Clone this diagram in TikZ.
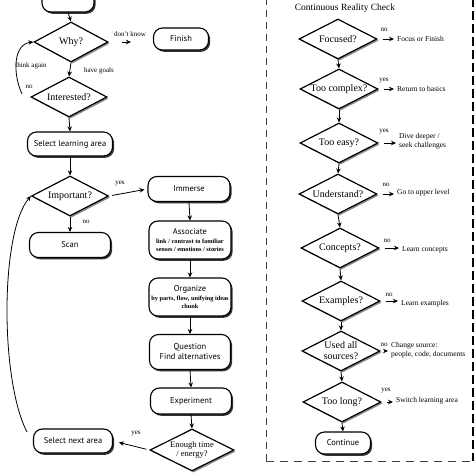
\documentclass[tikz,border=0pt]{standalone}
\usepackage{fontspec}
\setmainfont{Liberation Serif}
\setsansfont{PT Sans}
\usetikzlibrary{shapes.geometric,shadows,arrows.meta}
\newcommand{\subf}{\rmfamily\bfseries\fontsize{6.3}{7}\selectfont}
\tikzset{
  box/.style={draw, line width=1.1pt, fill=white, rounded corners=9pt, inner sep=1pt,
    drop shadow={shadow xshift=1.6pt, shadow yshift=-1.8pt, fill=black!80, opacity=1},
    font=\sffamily\fontsize{8.5}{10}\selectfont, align=center},
  diam/.style={diamond, aspect=2, draw, line width=1.2pt, fill=white, inner sep=0pt, align=center,
    drop shadow={shadow xshift=1.6pt, shadow yshift=-1.6pt, fill=black!45, opacity=1},
    font=\fontsize{10}{10.5}\selectfont},
  rdiam/.style={diam, minimum width=78pt, minimum height=40pt},
  arr/.style={line width=0.8pt, -{Stealth[length=5pt,width=4.5pt]}},
  lbl/.style={font=\fontsize{7}{8}\selectfont, inner sep=0pt},
  side/.style={font=\fontsize{7.5}{8.5}\selectfont, inner sep=0pt, anchor=west, align=left},
  dline/.style={line width=0.9pt, black!75, dash pattern=on 7pt off 5pt}
}
\begin{document}
\begin{tikzpicture}[x=1pt,y=-1pt]
\useasboundingbox (0,0) rectangle (474,474);
\clip (0,0) rectangle (474,474);
% ---------------- left flow ----------------
\node[box, minimum width=52pt, minimum height=24pt] (top) at (68,0) {};
\node[diam, minimum width=74pt, minimum height=40pt] (why) at (71,42) {Why?};
\node[box, minimum width=55pt, minimum height=22pt] (finish) at (181,39) {Finish};
\node[diam, minimum width=76pt, minimum height=40pt] (interested) at (69,97) {Interested?};
\node[box, minimum width=85pt, minimum height=24pt] (select) at (70,144) {Select learning area};
\node[diam, minimum width=77pt, minimum height=40pt] (important) at (70,196) {Important?};
\node[box, minimum width=81pt, minimum height=25pt] (scan) at (70,245) {Scan};
\node[box, minimum width=82pt, minimum height=25pt] (immerse) at (189,189) {Immerse};
\node[box, minimum width=82pt, minimum height=38pt] (associate) at (190,240)
  {Associate\\[-0.5pt]\subf link / contrast to familiar\\[-2.5pt]\subf senses / emotions / stories};
\node[box, minimum width=82pt, minimum height=38pt] (organize) at (190,297)
  {Organize\\[-0.5pt]\subf by parts, flow, unifying ideas\\[-2.5pt]\subf chunk};
\node[box, minimum width=81pt, minimum height=35pt] (question) at (190,352) {Question\\Find alternatives};
\node[box, minimum width=81pt, minimum height=26pt] (experiment) at (191,401) {Experiment};
\node[diam, minimum width=84pt, minimum height=42pt, font=\fontsize{8.5}{9.5}\selectfont] (enough) at (192,450) {Enough time\\/ energy?};
\node[box, minimum width=79pt, minimum height=24pt] (selnext) at (73,441) {Select next area};

\draw[arr] (top.south) -- (why.north);
\draw[arr, shorten <=13pt, shorten >=22pt] (why.east) -- (why.east -| finish.west);
\node[lbl] (dk) at (130,34) {don't know};
\draw[arr] (why.south) -- (interested.north);
\node[lbl] (hg) at (99,71) {have goals};
\node[lbl] (ta) at (31,66) {think again};
\node[lbl] (no1) at (29,87) {no};
\coordinate (tastart) at (22,94);
\draw[arr] (tastart) .. controls (12,72) and (14,44) .. (why.west);
\draw[arr] (interested.south) -- (select.north);
\draw[arr] (select.south) -- (important.north);
\draw[arr, shorten <=3pt, shorten >=3pt] (important.east) -- (immerse.west);
\node[lbl] (y1) at (120,184) {yes};
\draw[arr] (important.south) -- (scan.north);
\node[lbl] (no2) at (86,222) {no};
\draw[arr] (immerse.south) -- (associate.north);
\draw[arr] (associate.south) -- (organize.north);
\draw[arr] (organize.south) -- (question.north);
\draw[arr] (question.south) -- (experiment.north);
\draw[arr] (experiment.south) -- (enough.north);
\draw[arr, shorten <=3pt, shorten >=6pt] (enough.west) -- (selnext.east);
\node[lbl] (y2) at (136,434) {yes};
\coordinate (loopstart) at (27,432);
\draw[arr] (loopstart) .. controls (0,380) and (0,232) .. (important.west);

% ---------------- right panel ----------------
\draw[dline] (266,-2) -- (266,461);
\draw[line width=0.9pt, black!75, dash pattern=on 8pt off 6pt] (266,461) -- (472,461);
\draw[line width=3pt, dash pattern=on 9pt off 4pt] (473,-2) -- (473,461);
\node[font=\fontsize{9.5}{10}\selectfont] (title) at (345,8) {Continuous Reality Check};

\node[rdiam] (focused) at (338,39) {Focused?};
\node[rdiam] (complex) at (339,89) {Too complex?};
\node[rdiam] (easy) at (339,143) {Too easy?};
\node[rdiam] (understand) at (338,194) {Understand?};
\node[rdiam] (concepts) at (340,248) {Concepts?};
\node[rdiam] (examples) at (341,301) {Examples?};
\node[rdiam, font=\fontsize{10}{11}\selectfont] (sources) at (341,351) {Used all\\sources?};
\node[rdiam] (toolong) at (342,402) {Too long?};
\node[box, minimum width=55pt, minimum height=22pt] (continue) at (343,443) {Continue};

\draw[arr] (focused.south) -- (complex.north);
\draw[arr] (complex.south) -- (easy.north);
\draw[arr] (easy.south) -- (understand.north);
\draw[arr] (understand.south) -- (concepts.north);
\draw[arr] (concepts.south) -- (examples.north);
\draw[arr] (examples.south) -- (sources.north);
\draw[arr] (sources.south) -- (toolong.north);
\draw[arr] (toolong.south) -- (continue.north);

\node[side] (s1) at (397,39) {Focus or Finish};
\node[side] (s2) at (397,89) {Return to basics};
\node[side] (s3) at (399,141) {Dive deeper /\\seek challenges};
\node[side] (s4) at (397,193) {Go to upper level};
\node[side] (s5) at (402,250) {Learn concepts};
\node[side] (s6) at (401,304) {Learn examples};
\node[side] (s7) at (391,350) {Change source:\\people, code, documents};
\node[side] (s8) at (396,401) {Switch learning area};

\foreach \d/\s in {focused/s1, complex/s2, easy/s3, understand/s4, concepts/s5, examples/s6, sources/s7, toolong/s8}{
  \draw[arr, shorten <=5pt, shorten >=3pt] (\d.east) -- (\d.east -| \s.west);
}
\node[lbl] (n1) at (384,30) {no};
\node[lbl] (n2) at (384,81) {yes};
\node[lbl] (n3) at (384,132) {yes};
\node[lbl] (n4) at (386,185) {no};
\node[lbl] (n5) at (387,241) {no};
\node[lbl] (n6) at (389,295) {no};
\node[lbl] (n7) at (384,345) {no};
\node[lbl] (n8) at (386,391) {yes};
\end{tikzpicture}
\end{document}
